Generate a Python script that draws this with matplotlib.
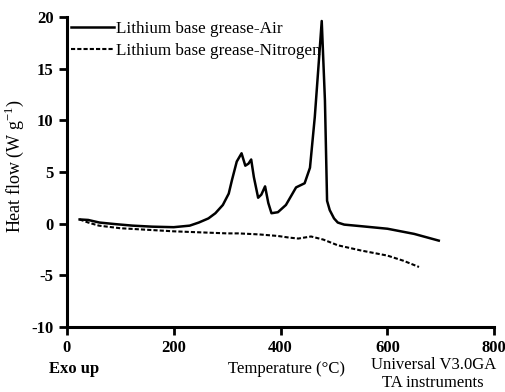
import matplotlib.pyplot as plt

plt.rcParams['font.family'] = 'Liberation Serif'
plt.rcParams['mathtext.fontset'] = 'custom'
plt.rcParams['mathtext.rm'] = 'Liberation Serif'
plt.rcParams['axes.unicode_minus'] = False

# DSC heat flow of lithium grease, air vs nitrogen atmosphere
temp_air = [24, 40, 61, 90, 123, 160, 200, 230, 247, 265, 278, 292, 303, 309, 318, 327, 334,
            340, 345, 350, 358, 364, 371, 377, 383, 395, 410, 429, 445, 455, 464, 473, 477,
            483, 487, 492, 500, 507, 519, 550, 600, 650, 696]
flow_air = [0.4, 0.35, 0.1, -0.05, -0.2, -0.3, -0.35, -0.2, 0.1, 0.5, 1.0, 1.8, 2.9, 4.2, 6.0,
            6.8, 5.6, 5.8, 6.2, 4.5, 2.5, 2.8, 3.6, 2.0, 1.0, 1.1, 1.8, 3.5, 3.9, 5.4, 10.3,
            16.7, 19.6, 11.9, 2.2, 1.3, 0.5, 0.1, -0.1, -0.25, -0.5, -1.0, -1.65]

temp_n2 = [24, 40, 60, 100, 150, 200, 250, 300, 321, 360, 395, 415, 433, 445, 457, 480, 507,
           550, 600, 630, 659]
flow_n2 = [0.4, 0.1, -0.2, -0.45, -0.6, -0.75, -0.85, -0.95, -0.95, -1.05, -1.2, -1.35, -1.45,
           -1.35, -1.25, -1.55, -2.1, -2.6, -3.1, -3.6, -4.2]

xticks = [0, 200, 400, 600, 800]
yticks = [-10, -5, 0, 5, 10, 15, 20]

fig = plt.figure(figsize=(5.06, 3.92), dpi=100)
ax = fig.add_axes([0.132, 0.166, 0.845, 0.791])

ax.plot(temp_air, flow_air, color='black', lw=1.8, label='Lithium base grease-Air')
ax.plot(temp_n2, flow_n2, color='black', lw=1.5, linestyle=(0, (2, 1)),
        label='Lithium base grease-Nitrogen')

ax.set_xlim(0, 800)
ax.set_ylim(-10, 20)
ax.set_xticks(xticks)
ax.set_yticks(yticks)
ax.tick_params(direction='out', length=6, width=2, labelsize=12)
for lbl in ax.get_xticklabels() + ax.get_yticklabels():
    lbl.set_fontweight('bold')
for s in ['top', 'right']:
    ax.spines[s].set_visible(False)
for s in ['left', 'bottom']:
    ax.spines[s].set_linewidth(2.2)

ax.set_ylabel('Heat flow (W g$^{-1}$)', fontsize=13)
ax.yaxis.set_label_coords(-0.095, 0.52)

leg = ax.legend(loc='upper left', frameon=False, fontsize=12.3,
                handlelength=2.5, handletextpad=0.15, borderaxespad=0.0, borderpad=0.25,
                labelspacing=0.35)

fig.text(0.146, 0.059, 'Exo up', ha='center', va='center', fontsize=12, fontweight='bold')
fig.text(0.566, 0.059, 'Temperature (°C)', ha='center', va='center', fontsize=12)
fig.text(0.856, 0.069, 'Universal V3.0GA', ha='center', va='center', fontsize=12)
fig.text(0.856, 0.023, 'TA instruments', ha='center', va='center', fontsize=12)

fig.savefig('out.png', dpi=100)
